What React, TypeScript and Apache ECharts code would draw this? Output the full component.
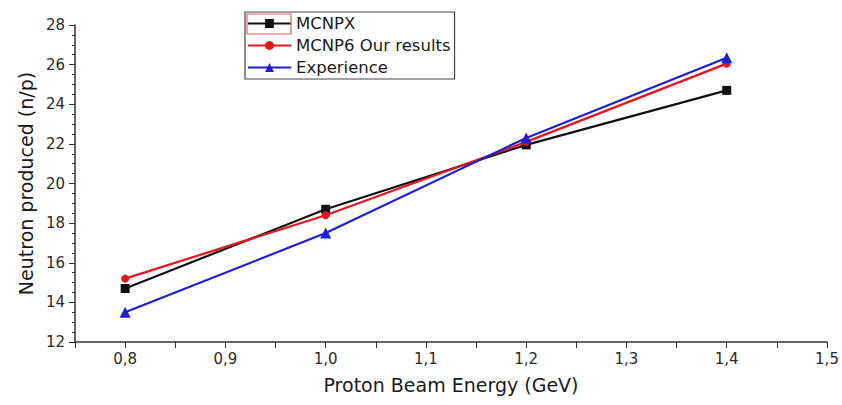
import React, { useEffect, useRef } from "react";
import * as echarts from "echarts";

const energies = [0.8, 1.0, 1.2, 1.4];
const mcnpx = [14.7, 18.7, 21.95, 24.7];
const mcnp6 = [15.2, 18.4, 22.1, 26.05];
const experience = [13.5, 17.5, 22.3, 26.35];
const seriesNames = ["MCNPX", "MCNP6 Our results", "Experience"];

export default function App() {
  const ref = useRef<HTMLDivElement>(null);
  useEffect(() => {
    const chart = echarts.init(ref.current!, null, { renderer: "svg" });
    const font = "DejaVu Sans, sans-serif";
    const mk = (vals: number[]) => energies.map((e, i) => [e, vals[i]]);
    chart.setOption({
      animation: false,
      backgroundColor: "#fff",
      textStyle: { fontFamily: font },
      grid: { left: 75, right: 15, top: 25, bottom: 63 },
      legend: {
        orient: "vertical",
        left: 245,
        top: 12,
        padding: [3, 4, 3, 2],
        itemGap: 5,
        itemWidth: 43,
        itemHeight: 11,
        borderColor: "#444",
        borderWidth: 1.2,
        textStyle: { fontSize: 16.5, color: "#1a1a1a", fontFamily: font },
        data: seriesNames,
      },
      graphic: [
        {
          type: "rect",
          shape: { x: 247, y: 14, width: 44, height: 20 },
          style: { fill: "none", stroke: "#e06060", lineWidth: 1.2 },
          z: 100,
        },
      ],
      xAxis: {
        type: "value",
        min: 0.75,
        max: 1.5,
        interval: 0.05,
        name: "Proton Beam Energy (GeV)",
        nameLocation: "middle",
        nameGap: 33,
        nameTextStyle: { fontSize: 19, color: "#1a1a1a" },
        axisLine: { lineStyle: { color: "#333", width: 1.5 } },
        axisTick: { show: true, length: 6, lineStyle: { color: "#333" } },
        axisLabel: {
          fontSize: 15,
          color: "#2a2a2a",
          margin: 9,
          formatter: (v: number) => {
            const r = Math.round(v * 100);
            if (r % 10 !== 0) return "";
            return (r / 100).toFixed(1).replace(".", ",");
          },
        },
        splitLine: { show: false },
      },
      yAxis: {
        type: "value",
        min: 12,
        max: 28,
        interval: 2,
        name: "Neutron produced (n/p)",
        nameLocation: "middle",
        nameGap: 38,
        nameTextStyle: { fontSize: 19, color: "#1a1a1a" },
        axisLine: { show: true, lineStyle: { color: "#333", width: 1.5 } },
        axisTick: { show: true, length: 6, lineStyle: { color: "#333" } },
        minorTick: { show: true, splitNumber: 4, length: 3, lineStyle: { color: "#333" } },
        axisLabel: { fontSize: 15, color: "#2a2a2a", margin: 10 },
        splitLine: { show: false },
      },
      series: [
        {
          name: seriesNames[0],
          type: "line",
          data: mk(mcnpx),
          symbol: "rect",
          symbolSize: 9,
          color: "#111",
          lineStyle: { width: 2.2, color: "#111" },
          z: 3,
        },
        {
          name: seriesNames[1],
          type: "line",
          data: mk(mcnp6),
          symbol: "circle",
          symbolSize: 8,
          color: "#e3151d",
          lineStyle: { width: 2.2, color: "#e3151d" },
          z: 4,
        },
        {
          name: seriesNames[2],
          type: "line",
          data: mk(experience),
          symbol: "triangle",
          symbolSize: 11,
          color: "#1c1ed8",
          lineStyle: { width: 2.2, color: "#1c1ed8" },
          z: 5,
        },
      ],
    });
    return () => chart.dispose();
  }, []);
  return <div ref={ref} style={{ width: 842, height: 405, position: "absolute", left: 0, top: 0 }} />;
}
